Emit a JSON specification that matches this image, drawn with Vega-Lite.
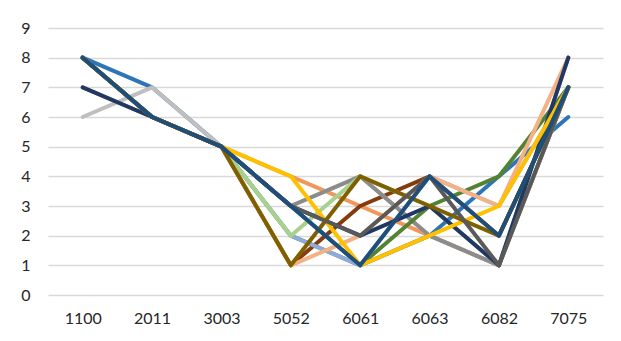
{
  "$schema": "https://vega.github.io/schema/vega-lite/v6.json",
  "width": 555,
  "height": 267,
  "autosize": {"type": "none"},
  "padding": {"left": 48, "top": 28, "right": 18, "bottom": 46},
  "background": "white",
  "config": {"view": {"stroke": null}, "font": "Lato"},
  "data": {"values": [
    {"s":"A","a":"1100","v":8},{"s":"A","a":"2011","v":6},{"s":"A","a":"3003","v":5},{"s":"A","a":"5052","v":4},{"s":"A","a":"6061","v":3},{"s":"A","a":"6063","v":2},{"s":"A","a":"6082","v":1},{"s":"A","a":"7075","v":7},
    {"s":"B","a":"1100","v":8},{"s":"B","a":"2011","v":6},{"s":"B","a":"3003","v":5},{"s":"B","a":"5052","v":1},{"s":"B","a":"6061","v":3},{"s":"B","a":"6063","v":4},{"s":"B","a":"6082","v":2},{"s":"B","a":"7075","v":7},
    {"s":"C","a":"1100","v":8},{"s":"C","a":"2011","v":7},{"s":"C","a":"3003","v":5},{"s":"C","a":"5052","v":3},{"s":"C","a":"6061","v":1},{"s":"C","a":"6063","v":2},{"s":"C","a":"6082","v":4},{"s":"C","a":"7075","v":6},
    {"s":"D","a":"1100","v":6},{"s":"D","a":"2011","v":7},{"s":"D","a":"3003","v":5},{"s":"D","a":"5052","v":3},{"s":"D","a":"6061","v":4},{"s":"D","a":"6063","v":2},{"s":"D","a":"6082","v":1},{"s":"D","a":"7075","v":8},
    {"s":"E","a":"1100","v":8},{"s":"E","a":"2011","v":6},{"s":"E","a":"3003","v":5},{"s":"E","a":"5052","v":3},{"s":"E","a":"6061","v":4},{"s":"E","a":"6063","v":2},{"s":"E","a":"6082","v":1},{"s":"E","a":"7075","v":7},
    {"s":"F","a":"1100","v":8},{"s":"F","a":"2011","v":6},{"s":"F","a":"3003","v":5},{"s":"F","a":"5052","v":2},{"s":"F","a":"6061","v":1},{"s":"F","a":"6063","v":3},{"s":"F","a":"6082","v":4},{"s":"F","a":"7075","v":7},
    {"s":"G","a":"1100","v":8},{"s":"G","a":"2011","v":6},{"s":"G","a":"3003","v":5},{"s":"G","a":"5052","v":2},{"s":"G","a":"6061","v":1},{"s":"G","a":"6063","v":4},{"s":"G","a":"6082","v":3},{"s":"G","a":"7075","v":7},
    {"s":"H","a":"1100","v":7},{"s":"H","a":"2011","v":6},{"s":"H","a":"3003","v":5},{"s":"H","a":"5052","v":1},{"s":"H","a":"6061","v":2},{"s":"H","a":"6063","v":4},{"s":"H","a":"6082","v":3},{"s":"H","a":"7075","v":8},
    {"s":"I","a":"1100","v":8},{"s":"I","a":"2011","v":6},{"s":"I","a":"3003","v":5},{"s":"I","a":"5052","v":2},{"s":"I","a":"6061","v":4},{"s":"I","a":"6063","v":3},{"s":"I","a":"6082","v":1},{"s":"I","a":"7075","v":7},
    {"s":"J","a":"1100","v":7},{"s":"J","a":"2011","v":6},{"s":"J","a":"3003","v":5},{"s":"J","a":"5052","v":3},{"s":"J","a":"6061","v":2},{"s":"J","a":"6063","v":3},{"s":"J","a":"6082","v":1},{"s":"J","a":"7075","v":8},
    {"s":"K","a":"1100","v":8},{"s":"K","a":"2011","v":6},{"s":"K","a":"3003","v":5},{"s":"K","a":"5052","v":4},{"s":"K","a":"6061","v":1},{"s":"K","a":"6063","v":2},{"s":"K","a":"6082","v":3},{"s":"K","a":"7075","v":7},
    {"s":"L","a":"1100","v":8},{"s":"L","a":"2011","v":6},{"s":"L","a":"3003","v":5},{"s":"L","a":"5052","v":1},{"s":"L","a":"6061","v":4},{"s":"L","a":"6063","v":3},{"s":"L","a":"6082","v":2},{"s":"L","a":"7075","v":7},
    {"s":"M","a":"1100","v":8},{"s":"M","a":"2011","v":6},{"s":"M","a":"3003","v":5},{"s":"M","a":"5052","v":3},{"s":"M","a":"6061","v":2},{"s":"M","a":"6063","v":4},{"s":"M","a":"6082","v":1},{"s":"M","a":"7075","v":7},
    {"s":"N","a":"1100","v":8},{"s":"N","a":"2011","v":6},{"s":"N","a":"3003","v":5},{"s":"N","a":"5052","v":3},{"s":"N","a":"6061","v":1},{"s":"N","a":"6063","v":4},{"s":"N","a":"6082","v":2},{"s":"N","a":"7075","v":7}
  ]},
  "mark": {"type": "line", "strokeWidth": 4, "strokeJoin": "round", "strokeCap": "round"},
  "encoding": {
    "x": {
      "field": "a", "type": "nominal", "sort": "ascending",
      "scale": {"type": "point", "padding": 0.5},
      "axis": {"title": null, "labelAngle": 0, "ticks": false, "domain": false, "grid": false, "labelFontSize": 16, "labelColor": "#262626", "labelPadding": 15}
    },
    "y": {
      "field": "v", "type": "quantitative",
      "scale": {"domain": [0, 9], "nice": false},
      "axis": {"title": null, "values": [0,1,2,3,4,5,6,7,8,9], "ticks": false, "domain": false, "gridColor": "#D9D9D9", "gridWidth": 1.5, "labelFontSize": 16, "labelColor": "#262626", "labelPadding": 18}
    },
    "color": {
      "field": "s", "type": "nominal", "legend": null,
      "scale": {
        "domain": ["A","B","C","D","E","F","G","H","I","J","K","L","M","N"],
        "range": ["#F1975A","#843C0C","#2E75B6","#BFBFBF","#8C8C8C","#548235","#8FAADC","#F4B183","#A9D18E","#203864","#FFC000","#7F6000","#595959","#1F4E79"]
      }
    },
    "order": {"field": "a"}
  }
}
